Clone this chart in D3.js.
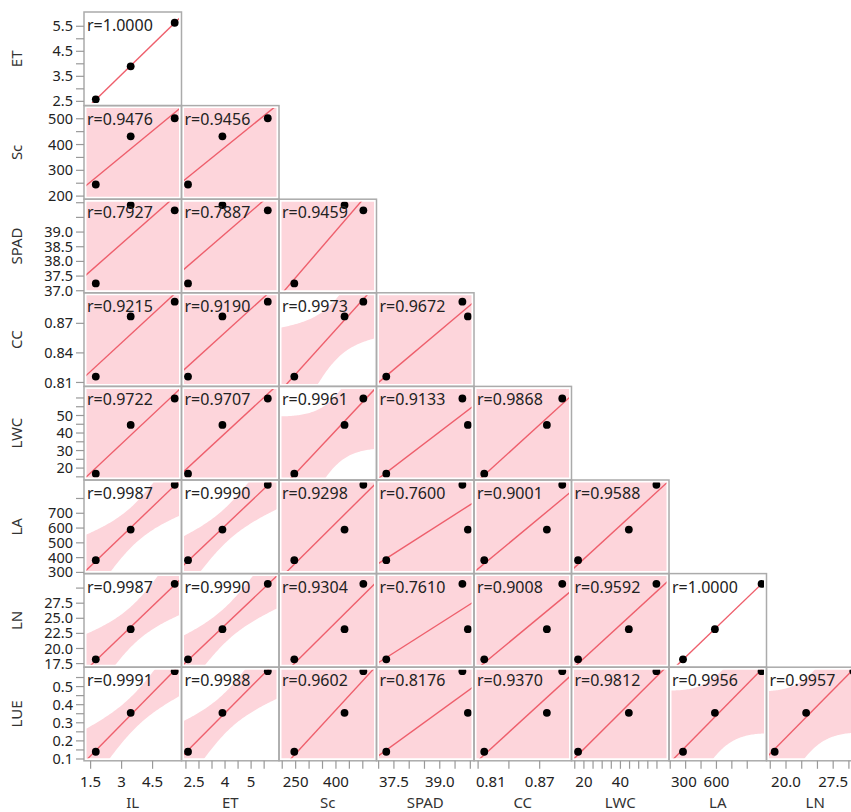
<!DOCTYPE html>
<html>
<head>
<meta charset="utf-8">
<script src="https://d3js.org/d3.v7.min.js"></script>
<style>
  body { margin: 0; background: #fff; }
  svg text { font-family: "Segoe UI", "Noto Sans", "Open Sans", sans-serif; fill: #222; }
</style>
</head>
<body>
<script>
// variables of the scatterplot matrix
const names = ["IL", "ET", "Sc", "SPAD", "CC", "LWC", "LA", "LN", "LUE"];

const IL   = [1.75, 3.44, 5.57];
const ET   = [2.58, 3.90, 5.64];
const Sc   = [245, 432, 502];
const SPAD = [37.25, 39.92, 39.74];
const CC   = [0.816, 0.877, 0.892];
const LWC  = [16.8, 44.6, 59.7];
const LA   = [383, 590, 893];
const LN   = [18.2, 23.2, 30.7];
const LUE  = [0.14, 0.355, 0.585];

// correlation labels, lower triangle (row = y var ET..LUE, col = x var IL..)
const rLabels = [
  ["1.0000"],
  ["0.9476", "0.9456"],
  ["0.7927", "0.7887", "0.9459"],
  ["0.9215", "0.9190", "0.9973", "0.9672"],
  ["0.9722", "0.9707", "0.9961", "0.9133", "0.9868"],
  ["0.9987", "0.9990", "0.9298", "0.7600", "0.9001", "0.9588"],
  ["0.9987", "0.9990", "0.9304", "0.7610", "0.9008", "0.9592", "1.0000"],
  ["0.9991", "0.9988", "0.9602", "0.8176", "0.9370", "0.9812", "0.9956", "0.9957"]
];

// axis ranges
const domIL = [1.18, 5.9], domET = [2.33, 6.07], domSc = [188, 551], domSPAD = [36.93, 40.12],
      domCC = [0.806, 0.901], domLWC = [13.2, 66.6], domLA = [292, 925], domLN = [16.9, 32.4],
      domLUE = [0.09, 0.607];

// tick marks and tick labels, left axis
const yTickET = [2.5, 3, 3.5, 4, 4.5, 5, 5.5], yLabET = ["2.5", "3.5", "4.5", "5.5"];
const yTickSc = [200, 250, 300, 350, 400, 450, 500], yLabSc = ["200", "300", "400", "500"];
const yTickSPAD = [37, 37.5, 38, 38.5, 39, 39.5, 40], yLabSPAD = ["37.0", "37.5", "38.0", "38.5", "39.0"];
const yTickCC = [0.81, 0.84, 0.87], yLabCC = ["0.81", "0.84", "0.87"];
const yTickLWC = [15, 20, 25, 30, 35, 40, 45, 50, 55, 60], yLabLWC = ["20", "30", "40", "50"];
const yTickLA = [300, 400, 500, 600, 700, 800], yLabLA = ["300", "400", "500", "600", "700"];
const yTickLN = [17.5, 20, 22.5, 25, 27.5, 30], yLabLN = ["17.5", "20.0", "22.5", "25.0", "27.5"];
const yTickLUE = [0.1, 0.15, 0.2, 0.25, 0.3, 0.35, 0.4, 0.45, 0.5, 0.55], yLabLUE = ["0.1", "0.2", "0.3", "0.4", "0.5"];

// tick marks and tick labels, bottom axis
const xTickIL = [1.5, 3, 4.5], xLabIL = ["1.5", "3", "4.5"];
const xTickET = [2.5, 3, 3.5, 4, 4.5, 5, 5.5], xLabET = ["2.5", "4", "5"];
const xTickSc = [200, 250, 300, 350, 400, 450, 500], xLabSc = ["250", "400"];
const xTickSPAD = [37, 37.5, 38, 38.5, 39, 39.5, 40], xLabSPAD = ["37.5", "39.0"];
const xTickCC = [0.81, 0.84, 0.87], xLabCC = ["0.81", "0.87"];
const xTickLWC = [15, 20, 25, 30, 35, 40, 45, 50, 55, 60], xLabLWC = ["20", "40"];
const xTickLA = [300, 400, 500, 600, 700, 800], xLabLA = ["300", "600"];
const xTickLN = [17.5, 20, 22.5, 25, 27.5, 30], xLabLN = ["20.0", "27.5"];

const vals = {IL, ET, Sc, SPAD, CC, LWC, LA, LN, LUE};
const doms = {IL: domIL, ET: domET, Sc: domSc, SPAD: domSPAD, CC: domCC, LWC: domLWC, LA: domLA, LN: domLN, LUE: domLUE};
const yAx = {ET: [yTickET, yLabET], Sc: [yTickSc, yLabSc], SPAD: [yTickSPAD, yLabSPAD], CC: [yTickCC, yLabCC],
             LWC: [yTickLWC, yLabLWC], LA: [yTickLA, yLabLA], LN: [yTickLN, yLabLN], LUE: [yTickLUE, yLabLUE]};
const xAx = {IL: [xTickIL, xLabIL], ET: [xTickET, xLabET], Sc: [xTickSc, xLabSc], SPAD: [xTickSPAD, xLabSPAD],
             CC: [xTickCC, xLabCC], LWC: [xTickLWC, xLabLWC], LA: [xTickLA, xLabLA], LN: [xTickLN, xLabLN]};

const W = 851, H = 812;
const left0 = 84, top0 = 12, cw = 97.5, ch = 93.6, pad = 2.5;
const nRows = 8;

const svg = d3.select("body").append("svg").attr("width", W).attr("height", H);
const defs = svg.append("defs");

function xs(v, j) { return d3.scaleLinear().domain(doms[v]).range([left0 + j * cw, left0 + (j + 1) * cw]); }
function ys(v, i) { return d3.scaleLinear().domain(doms[v]).range([top0 + (i + 1) * ch, top0 + i * ch]); }

// simple least squares + 95% confidence band for the mean (n = 3, t = 12.706)
function fit(xv, yv, r) {
  const n = xv.length, mx = d3.mean(xv), my = d3.mean(yv);
  let sxx = 0, sxy = 0, syy = 0;
  for (let k = 0; k < n; k++) {
    sxx += (xv[k] - mx) ** 2; sxy += (xv[k] - mx) * (yv[k] - my); syy += (yv[k] - my) ** 2;
  }
  const b = sxy / sxx, a = my - b * mx;
  const s = Math.sqrt(Math.max(0, syy * (1 - r * r) / (n - 2)));
  return {
    y: x => a + b * x,
    hw: x => 12.706 * s * Math.sqrt(1 / n + (x - mx) ** 2 / sxx)
  };
}

for (let i = 0; i < nRows; i++) {
  const yv = names[i + 1];
  const y = ys(yv, i);
  for (let j = 0; j <= i; j++) {
    const xv = names[j];
    const x = xs(xv, j);
    const x0 = x.range()[0], y0 = y.range()[1];
    const id = "clip" + i + "_" + j;
    defs.append("clipPath").attr("id", id).append("rect")
      .attr("x", x0 + pad).attr("y", y0 + pad)
      .attr("width", cw - 2 * pad).attr("height", ch - 2 * pad);

    const r = +rLabels[i][j];
    const f = fit(vals[xv], vals[yv], r);
    const g = svg.append("g").attr("clip-path", "url(#" + id + ")");

    const xsamp = d3.range(0, 81).map(k => doms[xv][0] + (doms[xv][1] - doms[xv][0]) * k / 80);
    g.append("path")
      .datum(xsamp)
      .attr("fill", "#FDD5DB")
      .attr("d", d3.area()
        .x(d => x(d))
        .y0(d => y(f.y(d) - f.hw(d)))
        .y1(d => y(f.y(d) + f.hw(d))));

    g.append("line")
      .attr("x1", x(doms[xv][0])).attr("y1", y(f.y(doms[xv][0])))
      .attr("x2", x(doms[xv][1])).attr("y2", y(f.y(doms[xv][1])))
      .attr("stroke", "#EE5F6C").attr("stroke-width", 1.4);

    g.selectAll("circle")
      .data(vals[xv].map((d, k) => [d, vals[yv][k]]))
      .enter().append("circle")
      .attr("cx", d => x(d[0])).attr("cy", d => y(d[1]))
      .attr("r", 3.9).attr("fill", "#000");

    svg.append("rect")
      .attr("x", x0).attr("y", y0).attr("width", cw).attr("height", ch)
      .attr("fill", "none").attr("stroke", "#ABABAB").attr("stroke-width", 1.5);

    svg.append("text")
      .attr("x", x0 + 3).attr("y", y0 + 19)
      .style("font-size", "16px")
      .text("r=" + rLabels[i][j]);
  }

  // left axis for this row
  const [tk, lb] = yAx[yv];
  svg.append("g").selectAll("line").data(tk).enter().append("line")
    .attr("x1", left0 - 8).attr("x2", left0)
    .attr("y1", d => y(d)).attr("y2", d => y(d))
    .attr("stroke", "#999").attr("stroke-width", 1.2);
  svg.append("g").selectAll("text").data(lb).enter().append("text")
    .attr("x", left0 - 11).attr("y", d => y(+d))
    .attr("dy", "0.35em").attr("text-anchor", "end")
    .style("font-size", "14.5px")
    .text(d => d);
  svg.append("text")
    .attr("transform", "translate(22," + (top0 + (i + 0.5) * ch) + ") rotate(-90)")
    .attr("text-anchor", "middle")
    .style("font-size", "15px").style("fill", "#333")
    .text(yv);
}

// bottom axes
const bottom = top0 + nRows * ch;
for (let j = 0; j < nRows; j++) {
  const xv = names[j];
  const x = xs(xv, j);
  const [tk, lb] = xAx[xv];
  svg.append("g").selectAll("line").data(tk).enter().append("line")
    .attr("x1", d => x(d)).attr("x2", d => x(d))
    .attr("y1", bottom).attr("y2", bottom + 8)
    .attr("stroke", "#999").attr("stroke-width", 1.2);
  const cellL = left0 + j * cw;
  svg.append("g").selectAll("text").data(lb).enter().append("text")
    .attr("x", d => x(+d)).attr("y", bottom + 26)
    .attr("text-anchor", "middle")
    .style("font-size", "15px")
    .text(d => d)
    .each(function(d) {
      // keep the label from crossing into the neighbouring column
      const w = this.getComputedTextLength();
      if (j > 0 && x(+d) - w / 2 < cellL + 2) {
        d3.select(this).attr("x", cellL + 2 + w / 2);
      }
    });
  svg.append("text")
    .attr("x", left0 + (j + 0.5) * cw).attr("y", bottom + 47)
    .attr("text-anchor", "middle")
    .style("font-size", "15px").style("fill", "#333")
    .text(xv);
}
</script>
</body>
</html>
